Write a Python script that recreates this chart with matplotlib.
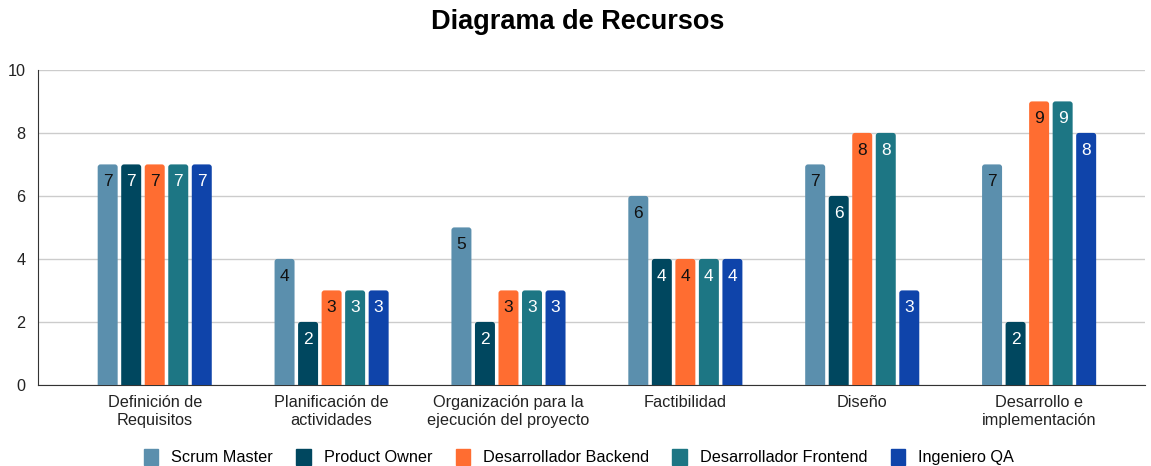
import matplotlib
matplotlib.use("Agg")
import matplotlib.pyplot as plt
from matplotlib.patches import FancyBboxPatch
import numpy as np

plt.rcParams['font.family'] = ['Liberation Sans', 'DejaVu Sans']

categories = ["Definición de\nRequisitos", "Planificación de\nactividades",
              "Organización para la\nejecución del proyecto", "Factibilidad",
              "Diseño", "Desarrollo e\nimplementación"]
series_names = ["Scrum Master", "Product Owner", "Desarrollador Backend",
                "Desarrollador Frontend", "Ingeniero QA"]
scrum_master = [7, 4, 5, 6, 7, 7]
product_owner = [7, 2, 2, 4, 6, 2]
dev_backend = [7, 3, 3, 4, 8, 9]
dev_frontend = [7, 3, 3, 4, 8, 9]
ingeniero_qa = [7, 3, 3, 4, 3, 8]
series_values = [scrum_master, product_owner, dev_backend, dev_frontend, ingeniero_qa]

colors = ["#5b8fad", "#00475f", "#ff6d31", "#1d7684", "#0f44aa"]
label_colors = ["#111111", "white", "#111111", "white", "white"]

fig = plt.figure(figsize=(11.51, 4.66), dpi=100)
ax = fig.add_axes([0.033, 0.174, 0.962, 0.676])

x = np.arange(len(categories))
bar_w = 0.113
pitch = 0.133
ylim_top = 10

for i, (name, vals) in enumerate(zip(series_names, series_values)):
    offs = (i - 2) * pitch
    bars = ax.bar(x + offs, vals, width=bar_w, color=colors[i], label=name, zorder=3)
    for b, v in zip(bars, vals):
        b.set_visible(False)
        # rounded-top bar; bottom extends below zero and is clipped by the axes
        patch = FancyBboxPatch((b.get_x(), -0.3), bar_w, v + 0.3,
                               boxstyle="round,pad=0,rounding_size=0.016",
                               mutation_aspect=5.6, facecolor=colors[i],
                               edgecolor="none", zorder=3)
        ax.add_patch(patch)
        ax.text(b.get_x() + bar_w / 2, v - 0.55, str(v), ha="center", va="center",
                fontsize=12.5, color=label_colors[i], zorder=4)

ax.set_xlim(-0.66, 5.6)
ax.set_ylim(0, ylim_top)
ax.set_yticks([0, 2, 4, 6, 8, 10])
ax.set_xticks(x)
ax.set_xticklabels(categories, fontsize=11.7, color="#222222", linespacing=1.3)
ax.tick_params(axis="y", labelsize=11.7, labelcolor="#222222", length=0, pad=9)
ax.tick_params(axis="x", length=0, pad=7)
ax.grid(axis="y", color="#cccccc", linewidth=1, zorder=0)
ax.set_axisbelow(True)
for s in ["top", "right"]:
    ax.spines[s].set_visible(False)
ax.spines["left"].set_color("#333333")
ax.spines["bottom"].set_color("#333333")

fig.suptitle("Diagrama de Recursos", fontsize=19.5, fontweight="bold", x=0.502, y=0.98)

handles = [plt.Rectangle((0, 0), 1, 1, color=c) for c in colors]
fig.legend(handles, series_names, loc="lower center", ncol=5, frameon=False,
           fontsize=11.7, bbox_to_anchor=(0.503, -0.03), handlelength=0.9,
           handleheight=1.1, columnspacing=1.42, handletextpad=0.8)

fig.savefig("out.png", dpi=100)
